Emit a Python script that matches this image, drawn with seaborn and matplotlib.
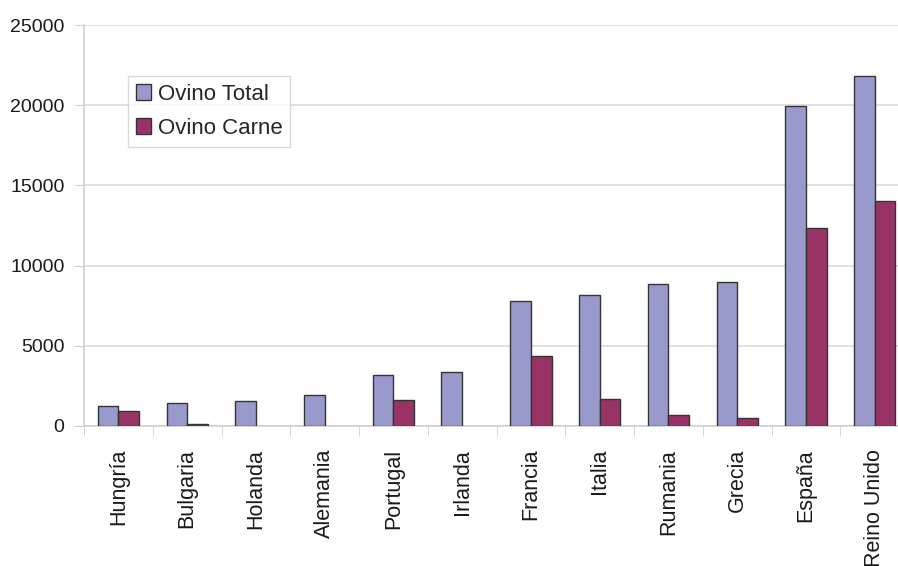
import pandas as pd
import seaborn as sns
import matplotlib.pyplot as plt
from matplotlib.ticker import FixedLocator

# Values
paises = ['Hungría', 'Bulgaria', 'Holanda', 'Alemania', 'Portugal', 'Irlanda',
          'Francia', 'Italia', 'Rumania', 'Grecia', 'España', 'Reino Unido']
ovino_total = [1250, 1450, 1560, 1930, 3180, 3390, 7790, 8170, 8870, 9000, 19970, 21840]
ovino_carne = [950, 120, 0, 0, 1620, 0, 4360, 1680, 670, 500, 12340, 14050]
series = ['Ovino Total', 'Ovino Carne']
colores = ['#9999CC', '#993366']

df = pd.DataFrame({
    'Pais': paises * 2,
    'Valor': ovino_total + ovino_carne,
    'Serie': [series[0]] * len(paises) + [series[1]] * len(paises),
})

sns.set_style('white')
plt.rcParams['font.family'] = ['Liberation Sans', 'DejaVu Sans']

fig = plt.figure(figsize=(8.98, 5.66), dpi=100)
ax = fig.add_axes([84 / 898, 140 / 566, 814 / 898, 401 / 566])

sns.barplot(data=df, x='Pais', y='Valor', hue='Serie', palette=colores,
            width=0.6, saturation=1, edgecolor='#333333', linewidth=1,
            ax=ax, zorder=3)

# no outline for empty bars
for cont in ax.containers:
    for bar in cont:
        if bar.get_height() == 0:
            bar.set_visible(False)

ax.set_ylim(0, 25000)
ax.set_xlim(-0.5, 11.5 - 11 / 68.75)
ax.set_yticks(range(0, 25001, 5000))
ax.yaxis.grid(True, color='#DADADA', linewidth=1.2, zorder=0)
ax.set_axisbelow(True)
ax.set_xlabel('')
ax.set_ylabel('')

for side in ['top', 'right']:
    ax.spines[side].set_visible(False)
ax.spines['left'].set_color('#CFCFCF')
ax.spines['bottom'].set_color('#CFCFCF')
ax.spines['left'].set_linewidth(1.2)
ax.spines['bottom'].set_linewidth(1.2)

# tick marks between categories, labels under each category
ax.xaxis.set_minor_locator(FixedLocator([i + 0.5 for i in range(-1, len(paises))]))
ax.tick_params(axis='x', which='minor', direction='out', length=7, color='#CFCFCF', bottom=True)
ax.tick_params(axis='x', which='major', length=0, pad=16.5, labelsize=15.5,
               labelcolor='#1A1A1A', labelrotation=90)
ax.tick_params(axis='y', direction='out', length=7, color='#CFCFCF', left=True,
               pad=7, labelsize=14, labelcolor='#1A1A1A')

leg = ax.legend(loc='upper left', bbox_to_anchor=(0.054, 0.873), borderaxespad=0,
                fontsize=16, frameon=True, fancybox=False, handlelength=0.7,
                handleheight=0.7, handletextpad=0.3, borderpad=0.35, labelspacing=0.6)
leg.get_frame().set_edgecolor('#D0D0D0')
leg.get_frame().set_linewidth(1)

fig.savefig('out.png', dpi=100)
